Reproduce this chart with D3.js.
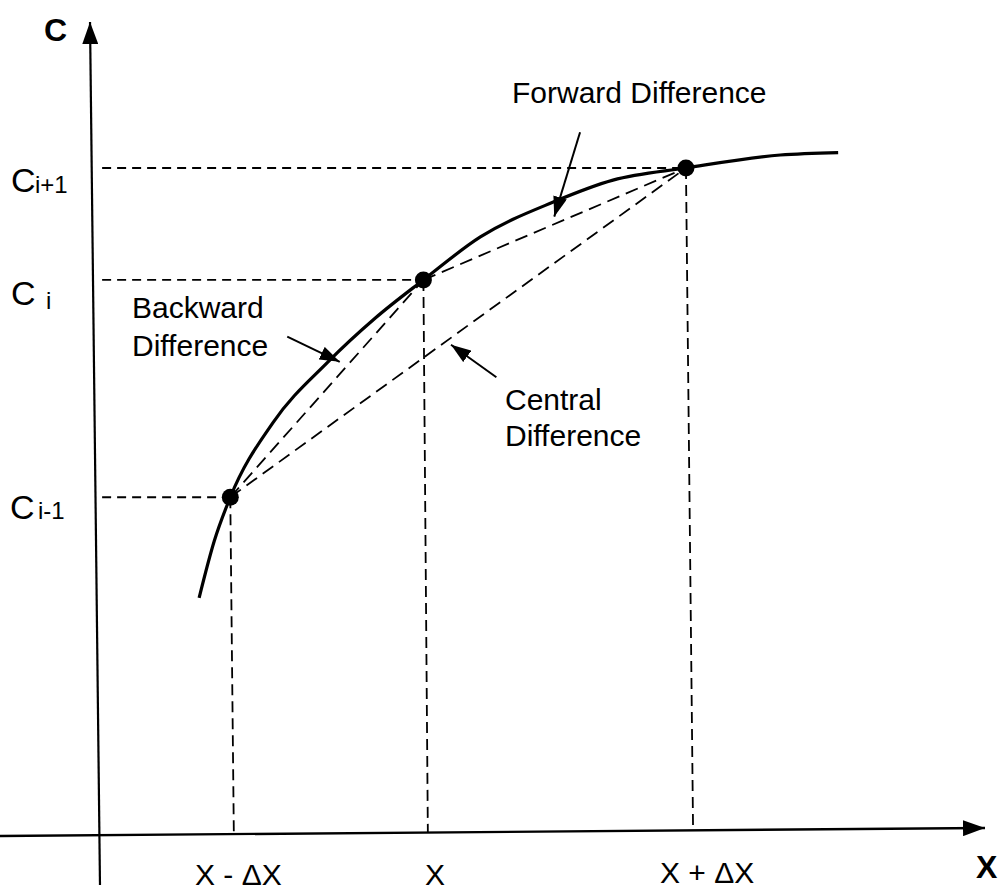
<!DOCTYPE html>
<html>
<head>
<meta charset="utf-8">
<script src="https://cdn.jsdelivr.net/npm/d3@7"></script>
<style>
  html, body { margin: 0; padding: 0; background: #fff; }
  svg { display: block; }
  text { font-family: "Liberation Sans", Arial, Helvetica, sans-serif; fill: #000; }
</style>
</head>
<body>
<svg id="chart" width="1005" height="894"></svg>
<script>
// ---- Data (diagram units, x and C both on 0..100 scales) ----
const curveX = [11.7, 13.4, 15.2, 20.0, 26.1, 31.5, 36.9, 43.3, 51.5, 58.2, 66.4, 77.0, 83.5];
const curveC = [29.0, 36.0, 41.4, 50.6, 58.0, 63.5, 68.2, 73.5, 77.8, 80.5, 82.0, 83.6, 83.9];

const pointX = [15.2, 36.9, 66.4];      // x - Δx, x, x + Δx
const pointC = [41.4, 68.2, 82.0];      // C(i-1), C(i), C(i+1)
const footX  = [15.6, 37.4, 67.2];      // where guides meet the x axis (scan skew)

const xTickLabels = ["X - ΔX", "X", "X + ΔX"];
const cTickBase = ["C", "C", "C"];
const cTickSubs = ["i-1", "i", "i+1"];

const secantNames = ["Backward Difference", "Forward Difference", "Central Difference"];
const secantFrom = [0, 1, 0];
const secantTo   = [1, 2, 2];

// pointer arrows [fromX, fromC, toX, toC]
const pointerBackward = [21.6, 61.2, 27.5, 58.1];
const pointerForward  = [54.5, 86.4, 51.6, 76.0];
const pointerCentral  = [45.1, 56.2, 40.0, 60.2];

// axes endpoints (scan is slightly rotated)
const xAxisEnds = [[-10.7, -0.37], [100.0, 0.62]];
const cAxisEnds = [[0.56, -6.4], [-0.56, 100.0]];

// ---- Scales ----
const svg = d3.select("#chart");
const x = d3.scaleLinear().domain([0, 100]).range([95, 985]);
const y = d3.scaleLinear().domain([0, 100]).range([833, 22]);

// markers
const defs = svg.append("defs");
defs.append("marker").attr("id", "axisHead")
  .attr("markerUnits", "userSpaceOnUse")
  .attr("viewBox", "0 0 22 16").attr("refX", 22).attr("refY", 8)
  .attr("markerWidth", 22).attr("markerHeight", 16).attr("orient", "auto")
  .append("path").attr("d", "M0,0 L22,8 L0,16 Z").attr("fill", "#000");
defs.append("marker").attr("id", "ptrHead")
  .attr("markerUnits", "userSpaceOnUse")
  .attr("viewBox", "0 0 20 14").attr("refX", 20).attr("refY", 7)
  .attr("markerWidth", 20).attr("markerHeight", 14).attr("orient", "auto")
  .append("path").attr("d", "M0,0 L20,7 L0,14 Z").attr("fill", "#000");

// ---- Axes ----
svg.append("line")
  .attr("x1", x(xAxisEnds[0][0])).attr("y1", y(xAxisEnds[0][1]))
  .attr("x2", x(xAxisEnds[1][0])).attr("y2", y(xAxisEnds[1][1]))
  .attr("stroke", "#000").attr("stroke-width", 2.4)
  .attr("marker-end", "url(#axisHead)");
svg.append("line")
  .attr("x1", x(cAxisEnds[0][0])).attr("y1", y(cAxisEnds[0][1]))
  .attr("x2", x(cAxisEnds[1][0])).attr("y2", y(cAxisEnds[1][1]))
  .attr("stroke", "#000").attr("stroke-width", 2.2)
  .attr("marker-end", "url(#axisHead)");

svg.append("text").attr("x", 44).attr("y", 41)
  .attr("font-size", 32).attr("font-weight", "bold").text("C");
svg.append("text").attr("x", 976).attr("y", 878)
  .attr("font-size", 32).attr("font-weight", "bold").text("X");

// ---- Guides ----
const guides = svg.append("g").attr("stroke", "#000").attr("stroke-width", 1.8)
  .attr("fill", "none");
pointX.forEach((px, i) => {
  guides.append("line")
    .attr("x1", x(0.8)).attr("y1", y(pointC[i]))
    .attr("x2", x(px)).attr("y2", y(pointC[i]))
    .attr("stroke-dasharray", "9,6");
  const footY = y(xAxisEnds[0][1]) + (y(xAxisEnds[1][1]) - y(xAxisEnds[0][1])) *
    (x(footX[i]) - x(xAxisEnds[0][0])) / (x(xAxisEnds[1][0]) - x(xAxisEnds[0][0]));
  guides.append("line")
    .attr("x1", x(px)).attr("y1", y(pointC[i]))
    .attr("x2", x(footX[i])).attr("y2", footY)
    .attr("stroke-dasharray", "11,6");
});

// ---- Secants ----
const secants = svg.append("g").attr("stroke", "#000").attr("stroke-width", 1.8);
secantNames.forEach((n, i) => {
  const a = secantFrom[i], b = secantTo[i];
  secants.append("line")
    .attr("x1", x(pointX[a])).attr("y1", y(pointC[a]))
    .attr("x2", x(pointX[b])).attr("y2", y(pointC[b]))
    .attr("stroke-dasharray", "13,7");
});

// ---- Curve ----
const line = d3.line().x(d => x(d[0])).y(d => y(d[1])).curve(d3.curveMonotoneX);
svg.append("path").datum(curveX.map((v, i) => [v, curveC[i]]))
  .attr("d", line).attr("fill", "none").attr("stroke", "#000").attr("stroke-width", 3.2);

// ---- Points ----
svg.selectAll("circle.pt").data(pointX).enter().append("circle")
  .attr("class", "pt")
  .attr("cx", d => x(d)).attr("cy", (d, i) => y(pointC[i])).attr("r", 8.5)
  .attr("fill", "#000");

// ---- Pointer arrows ----
[pointerBackward, pointerForward, pointerCentral].forEach(p => {
  svg.append("line")
    .attr("x1", x(p[0])).attr("y1", y(p[1]))
    .attr("x2", x(p[2])).attr("y2", y(p[3]))
    .attr("stroke", "#000").attr("stroke-width", 2)
    .attr("marker-end", "url(#ptrHead)");
});

// ---- Labels ----
const fs = 30;
function twoLine(xp, y1, y2, words) {
  const t = svg.append("text").attr("font-size", fs);
  t.append("tspan").attr("x", xp).attr("y", y1).text(words[0]);
  t.append("tspan").attr("x", xp).attr("y", y2).text(words[1]);
}
svg.append("text").attr("x", 512).attr("y", 103).attr("font-size", fs).text(secantNames[1]);
twoLine(132, 318, 356, secantNames[0].split(" "));
twoLine(505, 410, 446, secantNames[2].split(" "));

// x tick labels
const xLabPos = [[195, 885], [425, 885], [660, 883]];
xTickLabels.forEach((t, i) => {
  svg.append("text").attr("x", xLabPos[i][0]).attr("y", xLabPos[i][1])
    .attr("font-size", fs).text(t);
});

// C tick labels
const cBaseX = [10, 11, 11];
const cSubX  = [38, 46, 35];
const cOffs  = [[22, 22], [25, 29], [24, 25]];
cTickBase.forEach((b, i) => {
  const yy = y(pointC[i]);
  svg.append("text").attr("x", cBaseX[i]).attr("y", yy + cOffs[i][0])
    .attr("font-size", 34).text(b);
  svg.append("text").attr("x", cSubX[i]).attr("y", yy + cOffs[i][1])
    .attr("font-size", 24).text(cTickSubs[i]);
});
</script>
</body>
</html>
